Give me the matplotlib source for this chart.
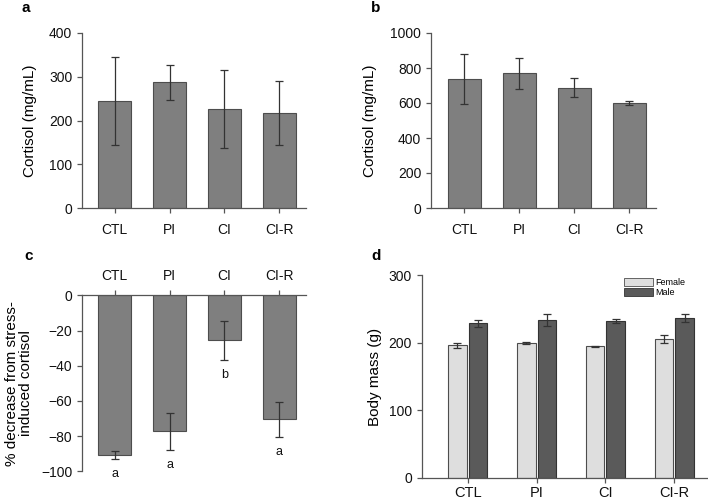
import matplotlib
matplotlib.use("Agg")
import matplotlib.pyplot as plt
import numpy as np
from matplotlib.patches import Patch

plt.rcParams['font.family'] = ['Liberation Sans', 'DejaVu Sans']

groups = ["CTL", "PI", "CI", "CI-R"]

# Panel a: cortisol (mg/mL)
a_mean = [245, 288, 226, 218]
a_err = [100, 40, 89, 73]

# Panel b: cortisol (mg/mL)
b_mean = [735, 770, 688, 602]
b_err = [143, 89, 56, 12]

# Panel c: % decrease from stress-induced cortisol
c_mean = [-90.9, -77.3, -25.6, -70.5]
c_err = [2.3, 10.4, 11.2, 10.0]
c_letters = ["a", "a", "b", "a"]

# Panel d: body mass (g)
d_female = [196.2, 199.2, 194.7, 205.1]
d_female_err = [4.0, 1.5, 1.0, 5.7]
d_male = [228.8, 233.8, 232.8, 236.7]
d_male_err = [4.7, 9.0, 3.0, 6.2]

W, H = 708, 504
fig = plt.figure(figsize=(W / 100, H / 100), dpi=100)

def ax_px(left, right, top, bottom):
    return fig.add_axes([left / W, 1 - bottom / H, (right - left) / W, (bottom - top) / H])

bar_c = "#7f7f7f"
edge_c = "#4d4d4d"
err_c = "#333333"
spine_c = "#555555"

def style(ax, fs=10):
    for s in ["top", "right"]:
        ax.spines[s].set_visible(False)
    for s in ["left", "bottom", "top"]:
        ax.spines[s].set_color(spine_c)
        ax.spines[s].set_linewidth(0.9)
    ax.tick_params(colors=spine_c, labelcolor="#111111", labelsize=fs, length=3.5, width=0.9, direction="out")

x = np.arange(len(groups))

# ---- a ----
ax = ax_px(82, 306, 33, 208)
ax.bar(x, a_mean, width=0.6, color=bar_c, edgecolor=edge_c, linewidth=0.8)
ax.errorbar(x, a_mean, yerr=a_err, fmt="none", ecolor=err_c, elinewidth=0.9, capsize=3.2, capthick=0.9)
ax.set_xlim(-0.6, 3.49)
ax.set_ylim(0, 400)
ax.set_yticks([0, 100, 200, 300, 400])
ax.set_xticks(x)
ax.set_xticklabels(groups)
style(ax)
ax.tick_params(axis="x", pad=7)
ax.set_ylabel("Cortisol (mg/mL)", fontsize=11)
ax.yaxis.set_label_coords(-0.2, 0.5)
fig.text(21 / W, 1 - 8 / H, "a", fontsize=11, fontweight="bold", va="center")

# ---- b ----
ax = ax_px(431, 656, 33, 208)
ax.bar(x, b_mean, width=0.6, color=bar_c, edgecolor=edge_c, linewidth=0.8)
ax.errorbar(x, b_mean, yerr=b_err, fmt="none", ecolor=err_c, elinewidth=0.9, capsize=3.2, capthick=0.9)
ax.set_xlim(-0.6, 3.49)
ax.set_ylim(0, 1000)
ax.set_yticks([0, 200, 400, 600, 800, 1000])
ax.set_xticks(x)
ax.set_xticklabels(groups)
style(ax)
ax.tick_params(axis="x", pad=7)
ax.set_ylabel("Cortisol (mg/mL)", fontsize=11)
ax.yaxis.set_label_coords(-0.24, 0.5)
fig.text(371 / W, 1 - 8 / H, "b", fontsize=11, fontweight="bold", va="center")

# ---- c ----
ax = ax_px(82, 306, 295.3, 471.3)
ax.bar(x, c_mean, width=0.6, color=bar_c, edgecolor=edge_c, linewidth=0.8)
ax.errorbar(x, c_mean, yerr=c_err, fmt="none", ecolor=err_c, elinewidth=0.9, capsize=3.2, capthick=0.9)
ax.set_xlim(-0.6, 3.49)
ax.set_ylim(-100, 0)
ax.set_yticks([-100, -80, -60, -40, -20, 0])
ax.set_xticks(x)
ax.set_xticklabels(groups)
style(ax)
ax.spines["bottom"].set_visible(False)
ax.spines["top"].set_visible(True)
ax.xaxis.set_ticks_position("top")
ax.xaxis.set_label_position("top")
ax.tick_params(axis="x", pad=5)
for xi, m, e, lab in zip(x, c_mean, c_err, c_letters):
    ax.text(xi, m - e - 8.5, lab, ha="center", va="center", fontsize=9, color="#111111", clip_on=False)
ax.set_ylabel("% decrease from stress-\ninduced cortisol", fontsize=11, linespacing=0.95)
ax.yaxis.set_label_coords(-0.22, 0.5)
fig.text(24 / W, 1 - 256 / H, "c", fontsize=11, fontweight="bold", va="center")

# ---- d ----
ax = ax_px(421.7, 708, 275.3, 477.7)
bw = 0.27
ax.bar(x - 0.15, d_female, width=bw, color="#dedede", edgecolor=edge_c, linewidth=0.8, label="Female")
ax.bar(x + 0.15, d_male, width=bw, color="#5a5a5a", edgecolor="#333333", linewidth=0.8, label="Male")
ax.errorbar(x - 0.15, d_female, yerr=d_female_err, fmt="none", ecolor=err_c, elinewidth=0.9, capsize=3.2, capthick=0.9)
ax.errorbar(x + 0.15, d_male, yerr=d_male_err, fmt="none", ecolor=err_c, elinewidth=0.9, capsize=3.2, capthick=0.9)
ax.set_xlim(-0.67, 3.49)
ax.set_ylim(0, 300)
ax.set_yticks([0, 100, 200, 300])
ax.set_xticks(x)
ax.set_xticklabels(groups)
style(ax)
ax.tick_params(axis="x", pad=2.5, labelsize=10.5)
ax.set_ylabel("Body mass (g)", fontsize=11)
ax.yaxis.set_label_coords(-0.14, 0.5)
handles = [Patch(facecolor="#dedede", edgecolor=edge_c, linewidth=0.6, label="Female"),
           Patch(facecolor="#5a5a5a", edgecolor="#333333", linewidth=0.6, label="Male")]
fig.legend(handles=handles, loc="upper left", bbox_to_anchor=(624 / W, 1 - 278 / H), frameon=False,
           fontsize=6.5, handlelength=3.2, handleheight=0.9, labelspacing=0.15, handletextpad=0.3,
           borderpad=0.0, borderaxespad=0.0)
fig.text(371 / W, 1 - 256 / H, "d", fontsize=11, fontweight="bold", va="center")

fig.savefig("out.png", dpi=100)
